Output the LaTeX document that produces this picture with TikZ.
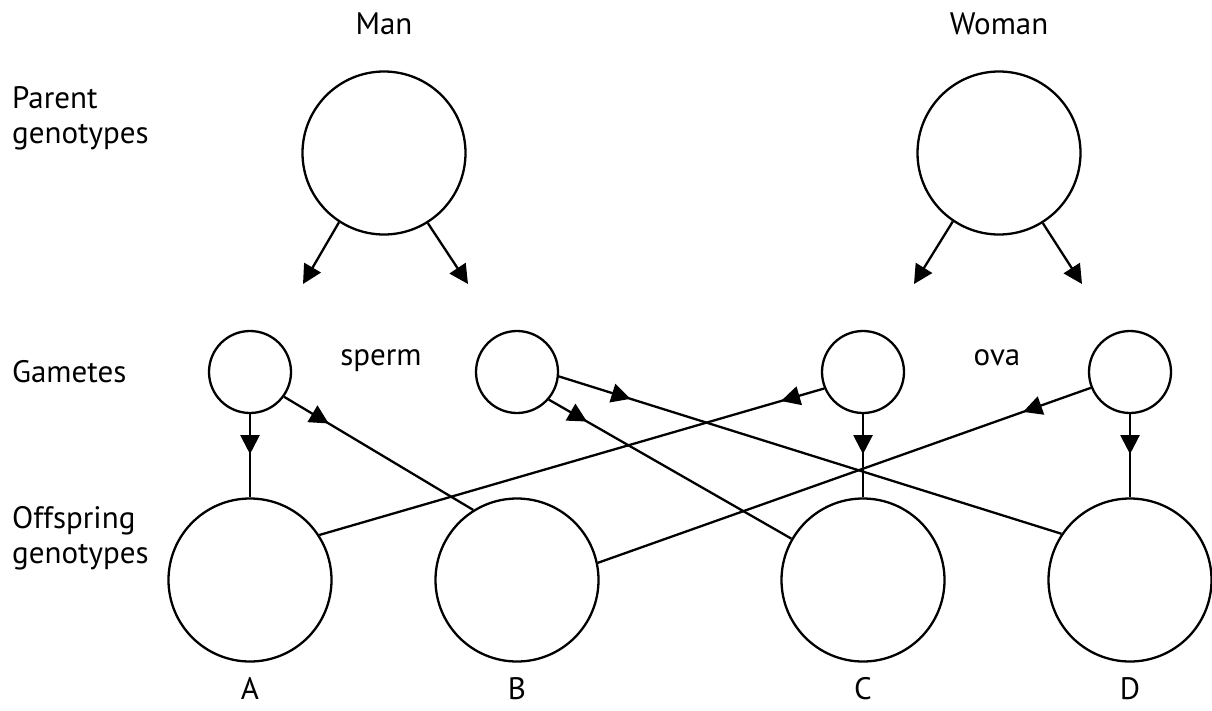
\documentclass[tikz,border=0pt]{standalone}
\usepackage{fontspec}
\setmainfont{PT Sans}
\usetikzlibrary{arrows.meta,decorations.markings}
\begin{document}
\begin{tikzpicture}[x=1pt,y=-1pt,
  line width=2.3pt,
  lbl/.style={font=\fontsize{31}{35}\selectfont, inner sep=0pt},
  big/.style={draw, circle, minimum size=163pt, inner sep=0pt},
  small/.style={draw, circle, minimum size=82pt, inner sep=0pt},
  tip/.style={-{Triangle[length=19pt,width=19pt]}},
  midarrow/.style={postaction={decorate}, decoration={markings,
     mark=at position #1 with {\arrow{Triangle[length=19pt,width=19pt]}}}}
]
\useasboundingbox (0,0) rectangle (1212,710);
% parents
\node[big] (M) at (384,153) {};
\node[big] (W) at (999,153) {};
\node[lbl] (man) at (384,24) {Man};
\node[lbl] (woman) at (999,24) {Woman};
\node[lbl, anchor=base west, align=left] (pg) at (11,143) {Parent\\genotypes};
% gametes
\node[small] (g1) at (250,372) {};
\node[small] (g2) at (517,372) {};
\node[small] (g3) at (863,372) {};
\node[small] (g4) at (1130,372) {};
\node[lbl, anchor=base west] (gam) at (11,382) {Gametes};
\node[lbl, anchor=base] (sperm) at (381,365) {sperm};
\node[lbl, anchor=base] (ova) at (997,365) {ova};
% offspring
\node[big] (A) at (250,580) {};
\node[big] (B) at (517,580) {};
\node[big] (C) at (863,580) {};
\node[big] (D) at (1130,580) {};
\node[lbl, anchor=base west, align=left] (og) at (11,563) {Offspring\\genotypes};
\node[lbl, anchor=base] (la) at (250,699) {A};
\node[lbl, anchor=base] (lb) at (517,699) {B};
\node[lbl, anchor=base] (lc) at (863,699) {C};
\node[lbl, anchor=base] (ld) at (1130,699) {D};
% parent arrows
\coordinate (m1) at (303,284);
\coordinate (m2) at (468,284);
\coordinate (w1) at (914,284);
\coordinate (w2) at (1082,284);
\draw[tip] (M.237) -- (m1);
\draw[tip] (M.-58) -- (m2);
\draw[tip] (W.236) -- (w1);
\draw[tip] (W.-58) -- (w2);
% gamete to offspring
\draw[midarrow=40pt] (g1.south) -- (A.north);
\draw[midarrow=52pt] (g1.-36) -- (B.122);
\draw[midarrow=75pt] (g2.-6) -- (D.146);
\draw[midarrow=44pt] (g2.-41) -- (C.150);
\draw[midarrow=40pt] (g3.south) -- (C.north);
\draw[midarrow=45pt] (g3.203) -- (A.33);
\draw[midarrow=40pt] (g4.south) -- (D.north);
\draw[midarrow=72pt] (g4.202) -- (B.12);
\end{tikzpicture}
\end{document}
